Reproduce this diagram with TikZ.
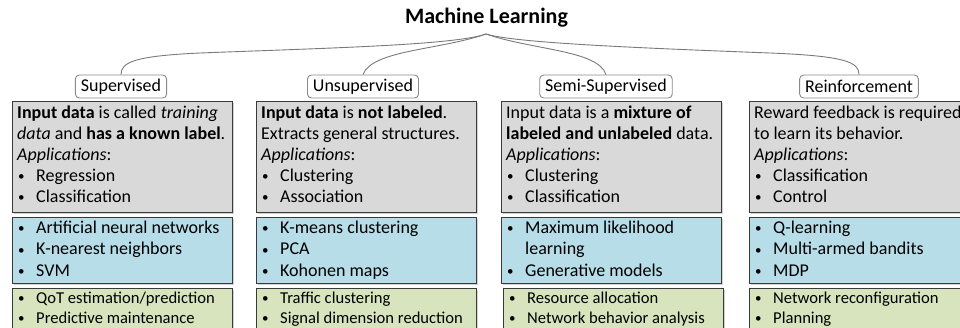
\documentclass[tikz,border=0pt]{standalone}
\usepackage{fontspec}
\setmainfont{Carlito}
\usetikzlibrary{shadows}
\definecolor{boxgray}{HTML}{D9D9D9}
\definecolor{boxblue}{HTML}{B7DDE8}
\definecolor{boxgreen}{HTML}{D7E4BD}
\definecolor{frame}{HTML}{3A3A3A}
\definecolor{lblframe}{HTML}{8A8A8A}
\definecolor{curve}{HTML}{7A7A7A}
\newcommand\bu{\makebox[19pt][l]{\hspace{1pt}\raisebox{0.6pt}{\fontsize{13}{13}\selectfont\textbullet}}}
\newcommand\fl[1]{\rule{0pt}{#1pt}}
\begin{document}
\begin{tikzpicture}[x=1pt,y=-1pt,
  panel/.style={draw=frame,line width=1.1pt,anchor=north west,inner sep=0pt,
    drop shadow={shadow xshift=1.5pt,shadow yshift=-1.5pt,opacity=0.35}},
  graypanel/.style={panel,fill=boxgray,minimum width=220pt,minimum height=111pt},
  bluepanel/.style={panel,fill=boxblue,minimum width=220pt,minimum height=66pt},
  greenpanel/.style={panel,fill=boxgreen,minimum width=220pt,minimum height=70pt},
  bigtxt/.style={anchor=north west,inner sep=0pt,align=left,text=black,
    font=\fontsize{18}{21}\selectfont},
  bluetxt/.style={bigtxt,font=\fontsize{18}{21.5}\selectfont},
  greentxt/.style={anchor=north west,inner sep=0pt,align=left,text=black,
    font=\fontsize{16.6}{20}\selectfont},
  lbl/.style={draw=lblframe,line width=0.9pt,rounded corners=4pt,fill=white,
    minimum height=23pt,inner xsep=5.5pt,inner ysep=0pt,
    font=\fontsize{18}{20}\selectfont},
  conn/.style={draw=curve,line width=0.9pt}
]
\useasboundingbox (0,0) rectangle (960,327);
\clip (0,0) rectangle (960,327);

% title
\node[font=\fontsize{22}{26}\selectfont\bfseries] (title) at (486.5,18) {Machine Learning};
\coordinate (apex) at (486,34);

% category labels
\node[lbl] (sup) at (121,86.5) {Supervised};
\node[lbl] (uns) at (363,86.5) {Unsupervised};
\node[lbl] (semi) at (606,86.5) {Semi-Supervised};
\node[lbl] (rein) at (859,86.5) {Reinforcement};

% connectors
\draw[conn] (apex) .. controls (455,45) and (330,48) .. (200,53)
  .. controls (135,56) and (121,62) .. (sup.north);
\draw[conn] (apex) .. controls (440,50) and (372,50) .. (uns.north);
\draw[conn] (apex) .. controls (532,50) and (598,50) .. (semi.north);
\draw[conn] (apex) .. controls (515,43) and (640,48) .. (770,53)
  .. controls (845,56) and (859,62) .. (rein.north);

% gray panels
\node[graypanel] (g1) at (12,101) {};
\node[graypanel] (g2) at (256,101) {};
\node[graypanel] (g3) at (501,101) {};
\node[graypanel] (g4) at (749,101) {};

\node[bigtxt] (gt1) at (17,103) {\fl{15}\textbf{Input data} is called \textit{training}\\
  \textit{data} and \textbf{has a known label}.\\ \textit{Applications}:\\
  \bu Regression\\ \bu Classification};
\node[bigtxt] (gt2) at (261,103) {\fl{15}\textbf{Input data} is \textbf{not labeled}.\\
  Extracts general structures.\\ \textit{Applications}:\\
  \bu Clustering\\ \bu Association};
\node[bigtxt] (gt3) at (506,103) {\fl{15}Input data is a \textbf{mixture of}\\
  \textbf{labeled and unlabeled} data.\\ \textit{Applications}:\\
  \bu Clustering\\ \bu Classification};
\node[bigtxt] (gt4) at (754,103) {\fl{15}Reward feedback is required\\
  to learn its behavior.\\ \textit{Applications}:\\
  \bu Classification\\ \bu Control};

% blue panels
\node[bluepanel] (b1) at (12,217) {};
\node[bluepanel] (b2) at (256,217) {};
\node[bluepanel] (b3) at (501,217) {};
\node[bluepanel] (b4) at (749,217) {};

\node[bluetxt] (bt1) at (17,218) {\fl{15}\bu Artificial neural networks\\
  \bu K-nearest neighbors\\ \bu SVM};
\node[bluetxt] (bt2) at (261,218) {\fl{15}\bu K-means clustering\\
  \bu PCA\\ \bu Kohonen maps};
\node[bluetxt] (bt3) at (506,218) {\fl{15}\bu Maximum likelihood\\
  \hspace*{19pt}learning\\ \bu Generative models};
\node[bluetxt] (bt4) at (754,218) {\fl{15}\bu Q-learning\\
  \bu Multi-armed bandits\\ \bu MDP};

% green panels
\node[greenpanel] (n1) at (12,288) {};
\node[greenpanel] (n2) at (256,288) {};
\node[greenpanel] (n3) at (503,288) {};
\node[greenpanel] (n4) at (749,288) {};

\node[greentxt] (nt1) at (17,289) {\fl{14}\bu QoT estimation/prediction\\
  \bu Predictive maintenance};
\node[greentxt] (nt2) at (261,289) {\fl{14}\bu Traffic clustering\\
  \bu Signal dimension reduction};
\node[greentxt] (nt3) at (508,289) {\fl{14}\bu Resource allocation\\
  \bu Network behavior analysis};
\node[greentxt] (nt4) at (754,289) {\fl{14}\bu Network reconfiguration\\
  \bu Planning};
\end{tikzpicture}
\end{document}
